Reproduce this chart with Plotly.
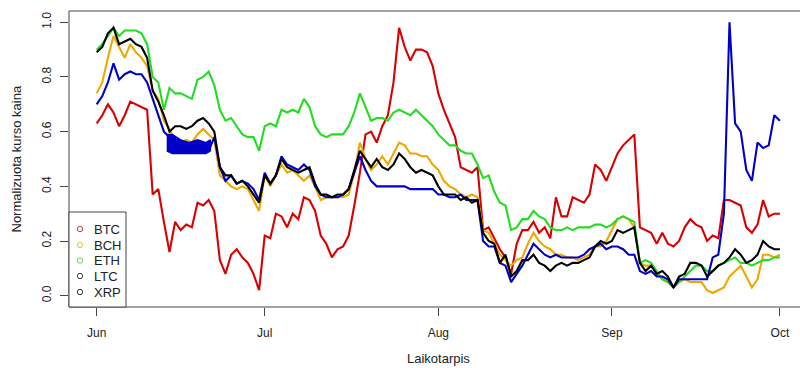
import pandas as pd
import plotly.graph_objects as go

# ---------------- data (normalised prices, one value per day from 2018-06-01) ----------------
START = "2018-06-01"
N_DAYS = 123

BTC = [0.63, 0.66, 0.70, 0.67, 0.62, 0.66, 0.71, 0.70, 0.69, 0.68,
       0.37, 0.39, 0.27, 0.16, 0.27, 0.24, 0.26, 0.25, 0.34, 0.33,
       0.35, 0.31, 0.13, 0.08, 0.15, 0.17, 0.14, 0.12, 0.08, 0.02,
       0.22, 0.21, 0.30, 0.29, 0.25, 0.30, 0.28, 0.36, 0.35, 0.31,
       0.22, 0.19, 0.14, 0.17, 0.18, 0.22, 0.33, 0.45, 0.59, 0.60,
       0.56, 0.62, 0.66, 0.78, 0.98, 0.91, 0.86, 0.90, 0.90, 0.89,
       0.84, 0.74, 0.68, 0.63, 0.58, 0.47, 0.46, 0.45, 0.47, 0.24,
       0.25, 0.21, 0.17, 0.14, 0.08, 0.19, 0.24, 0.24, 0.27, 0.23,
       0.25, 0.21, 0.36, 0.29, 0.29, 0.36, 0.35, 0.34, 0.37, 0.48,
       0.46, 0.42, 0.47, 0.52, 0.55, 0.57, 0.59, 0.25, 0.24, 0.23,
       0.19, 0.23, 0.19, 0.18, 0.20, 0.25, 0.28, 0.26, 0.25, 0.20,
       0.22, 0.21, 0.35, 0.35, 0.34, 0.33, 0.25, 0.23, 0.26, 0.35,
       0.29, 0.30, 0.30]

BCH = [0.74, 0.78, 0.87, 0.95, 0.91, 0.87, 0.92, 0.89, 0.87, 0.84,
       0.75, 0.72, 0.64, 0.61, 0.57, 0.56, 0.57, 0.56, 0.59, 0.61,
       0.59, 0.57, 0.44, 0.42, 0.40, 0.39, 0.40, 0.39, 0.35, 0.31,
       0.44, 0.40, 0.44, 0.48, 0.45, 0.46, 0.44, 0.42, 0.44, 0.40,
       0.35, 0.36, 0.36, 0.36, 0.36, 0.37, 0.45, 0.56, 0.50, 0.46,
       0.48, 0.51, 0.48, 0.52, 0.56, 0.55, 0.52, 0.52, 0.51, 0.51,
       0.48, 0.46, 0.42, 0.40, 0.39, 0.37, 0.36, 0.37, 0.36, 0.24,
       0.23, 0.19, 0.15, 0.13, 0.11, 0.13, 0.14, 0.19, 0.23, 0.20,
       0.18, 0.17, 0.15, 0.15, 0.14, 0.14, 0.13, 0.14, 0.15, 0.18,
       0.18, 0.20, 0.24, 0.28, 0.29, 0.28, 0.25, 0.12, 0.11, 0.11,
       0.08, 0.06, 0.05, 0.03, 0.05, 0.06, 0.05, 0.05, 0.05, 0.02,
       0.01, 0.02, 0.03, 0.07, 0.09, 0.11, 0.07, 0.03, 0.06, 0.15,
       0.15, 0.14, 0.15]

ETH = [0.90, 0.92, 0.95, 0.98, 0.95, 0.97, 0.97, 0.97, 0.96, 0.92,
       0.80, 0.78, 0.68, 0.76, 0.74, 0.74, 0.73, 0.72, 0.79, 0.80,
       0.82, 0.77, 0.68, 0.64, 0.65, 0.62, 0.59, 0.58, 0.58, 0.53,
       0.62, 0.63, 0.62, 0.68, 0.67, 0.68, 0.67, 0.72, 0.69, 0.62,
       0.59, 0.58, 0.59, 0.59, 0.59, 0.62, 0.67, 0.74, 0.69, 0.64,
       0.65, 0.65, 0.64, 0.67, 0.68, 0.67, 0.66, 0.68, 0.66, 0.64,
       0.62, 0.59, 0.57, 0.55, 0.55, 0.53, 0.52, 0.52, 0.48, 0.43,
       0.44, 0.38, 0.34, 0.33, 0.24, 0.25, 0.28, 0.28, 0.31, 0.29,
       0.28, 0.25, 0.24, 0.24, 0.25, 0.24, 0.25, 0.25, 0.25, 0.26,
       0.26, 0.25, 0.26, 0.28, 0.29, 0.28, 0.27, 0.12, 0.13, 0.12,
       0.09, 0.06, 0.05, 0.03, 0.05, 0.07, 0.09, 0.11, 0.11, 0.09,
       0.09, 0.11, 0.12, 0.13, 0.14, 0.12, 0.12, 0.11, 0.12, 0.13,
       0.13, 0.14, 0.14]

LTC = [0.89, 0.91, 0.96, 0.98, 0.92, 0.93, 0.94, 0.92, 0.91, 0.87,
       0.75, 0.71, 0.66, 0.60, 0.62, 0.62, 0.61, 0.62, 0.64, 0.65,
       0.63, 0.60, 0.47, 0.44, 0.44, 0.41, 0.42, 0.40, 0.37, 0.34,
       0.44, 0.41, 0.44, 0.50, 0.47, 0.46, 0.45, 0.46, 0.47, 0.41,
       0.37, 0.37, 0.36, 0.37, 0.37, 0.39, 0.46, 0.53, 0.50, 0.47,
       0.50, 0.47, 0.46, 0.48, 0.52, 0.50, 0.47, 0.45, 0.46, 0.45,
       0.44, 0.40, 0.37, 0.37, 0.37, 0.35, 0.36, 0.34, 0.35, 0.23,
       0.20, 0.19, 0.12, 0.15, 0.07, 0.09, 0.13, 0.13, 0.15, 0.12,
       0.11, 0.09, 0.11, 0.12, 0.11, 0.12, 0.12, 0.13, 0.14, 0.18,
       0.20, 0.19, 0.20, 0.24, 0.23, 0.24, 0.25, 0.12, 0.09, 0.11,
       0.08, 0.09, 0.07, 0.03, 0.07, 0.08, 0.12, 0.12, 0.11, 0.07,
       0.09, 0.11, 0.12, 0.14, 0.17, 0.15, 0.12, 0.13, 0.15, 0.20,
       0.18, 0.17, 0.17]

XRP = [0.70, 0.73, 0.78, 0.85, 0.79, 0.81, 0.82, 0.81, 0.81, 0.78,
       0.72, 0.66, 0.60, 0.58, 0.53, 0.57, 0.53, 0.56, 0.53, 0.55,
       0.53, 0.58, 0.47, 0.42, 0.44, 0.41, 0.42, 0.41, 0.39, 0.35,
       0.45, 0.41, 0.44, 0.51, 0.48, 0.47, 0.46, 0.48, 0.46, 0.40,
       0.37, 0.36, 0.36, 0.36, 0.37, 0.39, 0.45, 0.51, 0.46, 0.42,
       0.40, 0.40, 0.40, 0.40, 0.40, 0.40, 0.39, 0.39, 0.39, 0.39,
       0.39, 0.37, 0.37, 0.36, 0.36, 0.37, 0.35, 0.35, 0.35, 0.20,
       0.18, 0.18, 0.12, 0.11, 0.05, 0.08, 0.11, 0.15, 0.19, 0.17,
       0.15, 0.14, 0.15, 0.14, 0.14, 0.14, 0.14, 0.15, 0.17, 0.18,
       0.19, 0.17, 0.18, 0.18, 0.17, 0.15, 0.15, 0.09, 0.08, 0.09,
       0.07, 0.07, 0.06, 0.03, 0.06, 0.06, 0.06, 0.06, 0.06, 0.06,
       0.14, 0.15, 0.30, 1.00, 0.63, 0.60, 0.46, 0.42, 0.56, 0.54,
       0.55, 0.66, 0.64]

# dense oscillation of XRP in mid June shows as a filled band (day offsets, upper / lower edge)
XRP_BAND_DAYS = [12.5, 13.5, 15.0, 16.5, 18.0, 19.5, 20.3]
XRP_BAND_HIGH = [0.59, 0.59, 0.57, 0.56, 0.57, 0.56, 0.57]
XRP_BAND_LOW = [0.53, 0.52, 0.52, 0.52, 0.52, 0.52, 0.53]

MONTH_TICKS = ["2018-06-01", "2018-07-01", "2018-08-01", "2018-09-01", "2018-10-01"]
MONTH_LABELS = ["Jun", "Jul", "Aug", "Sep", "Oct"]
Y_TICKS = [0.0, 0.2, 0.4, 0.6, 0.8, 1.0]
Y_LABELS = ["0.0", "0.2", "0.4", "0.6", "0.8", "1.0"]
LEGEND_NAMES = ["BTC", "BCH", "ETH", "LTC", "XRP"]

# ---------------- styling ----------------
LINE_COLORS = {"BTC": "#d80000", "BCH": "#f2a600", "ETH": "#22dd22",
               "LTC": "#000000", "XRP": "#0000c8"}
LEGEND_COLORS = ["#b04a4c", "#e2c640", "#5ccf5c", "#3c3c3c", "#34343c"]
FONT = "Liberation Sans, Arial, sans-serif"
TXT = "#222222"

W, H = 800, 368
PL, PR, PT, PB = 69, 800, 11, 307          # plot area in pixels
JUN_PX, PX_PER_DAY = 96.7, 5.6

start = pd.Timestamp(START)
dates = start + pd.to_timedelta(list(range(N_DAYS)), unit="D")
x_range = [start + pd.Timedelta(days=(PL - JUN_PX) / PX_PER_DAY),
           start + pd.Timedelta(days=(PR - JUN_PX) / PX_PER_DAY)]


def px_x(px):
    return (px - PL) / (PR - PL)


def px_y(py):
    return (PB - py) / (PB - PT)


fig = go.Figure()

band_dates = start + pd.to_timedelta(XRP_BAND_DAYS, unit="D")
band_trace = go.Scatter(
    x=list(band_dates) + list(band_dates[::-1]),
    y=XRP_BAND_HIGH + XRP_BAND_LOW[::-1],
    fill="toself", fillcolor=LINE_COLORS["XRP"], mode="lines",
    line=dict(color=LINE_COLORS["XRP"], width=1.5), showlegend=False, hoverinfo="skip")

series = [("BTC", BTC), ("BCH", BCH), ("ETH", ETH), ("XRP", XRP), ("LTC", LTC)]
for name, vals in series:
    fig.add_trace(go.Scatter(x=dates, y=vals, mode="lines", name=name,
                             line=dict(color=LINE_COLORS[name], width=2.1),
                             showlegend=False))
    if name == "XRP":
        fig.add_trace(band_trace)

shapes = [
    # plot frame (right edge lies outside the picture)
    dict(type="rect", xref="paper", yref="paper", x0=0, x1=1.02, y0=0, y1=1,
         line=dict(color="#444444", width=1), layer="above"),
    # legend box
    dict(type="rect", xref="paper", yref="paper", x0=0, x1=px_x(126), y0=0, y1=px_y(212),
         line=dict(color="#444444", width=1), fillcolor="white", layer="above"),
]
annotations = []
legend_y_px = [229, 245, 260.5, 276, 292]
for name, col, ypx in zip(LEGEND_NAMES, LEGEND_COLORS, legend_y_px):
    shapes.append(dict(type="circle", xref="paper", yref="paper",
                       xsizemode="pixel", ysizemode="pixel",
                       xanchor=px_x(80), yanchor=px_y(ypx),
                       x0=-2.7, x1=2.7, y0=-2.7, y1=2.7,
                       line=dict(color=col, width=1), layer="above"))
    annotations.append(dict(xref="paper", yref="paper", x=px_x(92), y=px_y(ypx),
                            xanchor="left", yanchor="middle", text=name, showarrow=False,
                            font=dict(family=FONT, size=13, color=TXT)))

annotations.append(dict(xref="paper", yref="paper", x=px_x(438), y=px_y(368),
                        xanchor="center", yanchor="bottom", text="Laikotarpis",
                        showarrow=False, font=dict(family=FONT, size=13, color=TXT)))
annotations.append(dict(xref="paper", yref="paper", x=px_x(15.5), y=0.5,
                        xanchor="center", yanchor="middle", text="Normalizuota kurso kaina",
                        textangle=-90, showarrow=False,
                        font=dict(family=FONT, size=13, color=TXT)))

fig.update_layout(
    width=W, height=H,
    margin=dict(l=PL, r=W - PR, t=PT, b=H - PB, pad=0, autoexpand=False),
    paper_bgcolor="white", plot_bgcolor="white",
    font=dict(family=FONT, size=12, color=TXT),
    shapes=shapes, annotations=annotations,
    showlegend=False,
)
fig.update_xaxes(type="date", range=x_range, showgrid=False, zeroline=False, showline=False,
                 automargin=False,
                 tickmode="array", tickvals=pd.to_datetime(MONTH_TICKS), ticktext=MONTH_LABELS,
                 ticks="outside", ticklen=8, tickcolor="#444444", tickwidth=1,
                 ticklabelstandoff=7, tickfont=dict(size=12, color=TXT, family=FONT))
fig.update_yaxes(range=[-0.0413, 1.0413], showgrid=False, zeroline=False, showline=False,
                 automargin=False,
                 tickmode="array", tickvals=Y_TICKS, ticktext=Y_LABELS,
                 ticks="outside", ticklen=8, tickcolor="#444444", tickwidth=1,
                 tickangle=-90, ticklabelstandoff=4,
                 tickfont=dict(size=12, color=TXT, family=FONT))

fig.write_html("out.html", config={"displayModeBar": False},
               post_script="document.body.style.margin='0';document.body.style.overflow='hidden';")
